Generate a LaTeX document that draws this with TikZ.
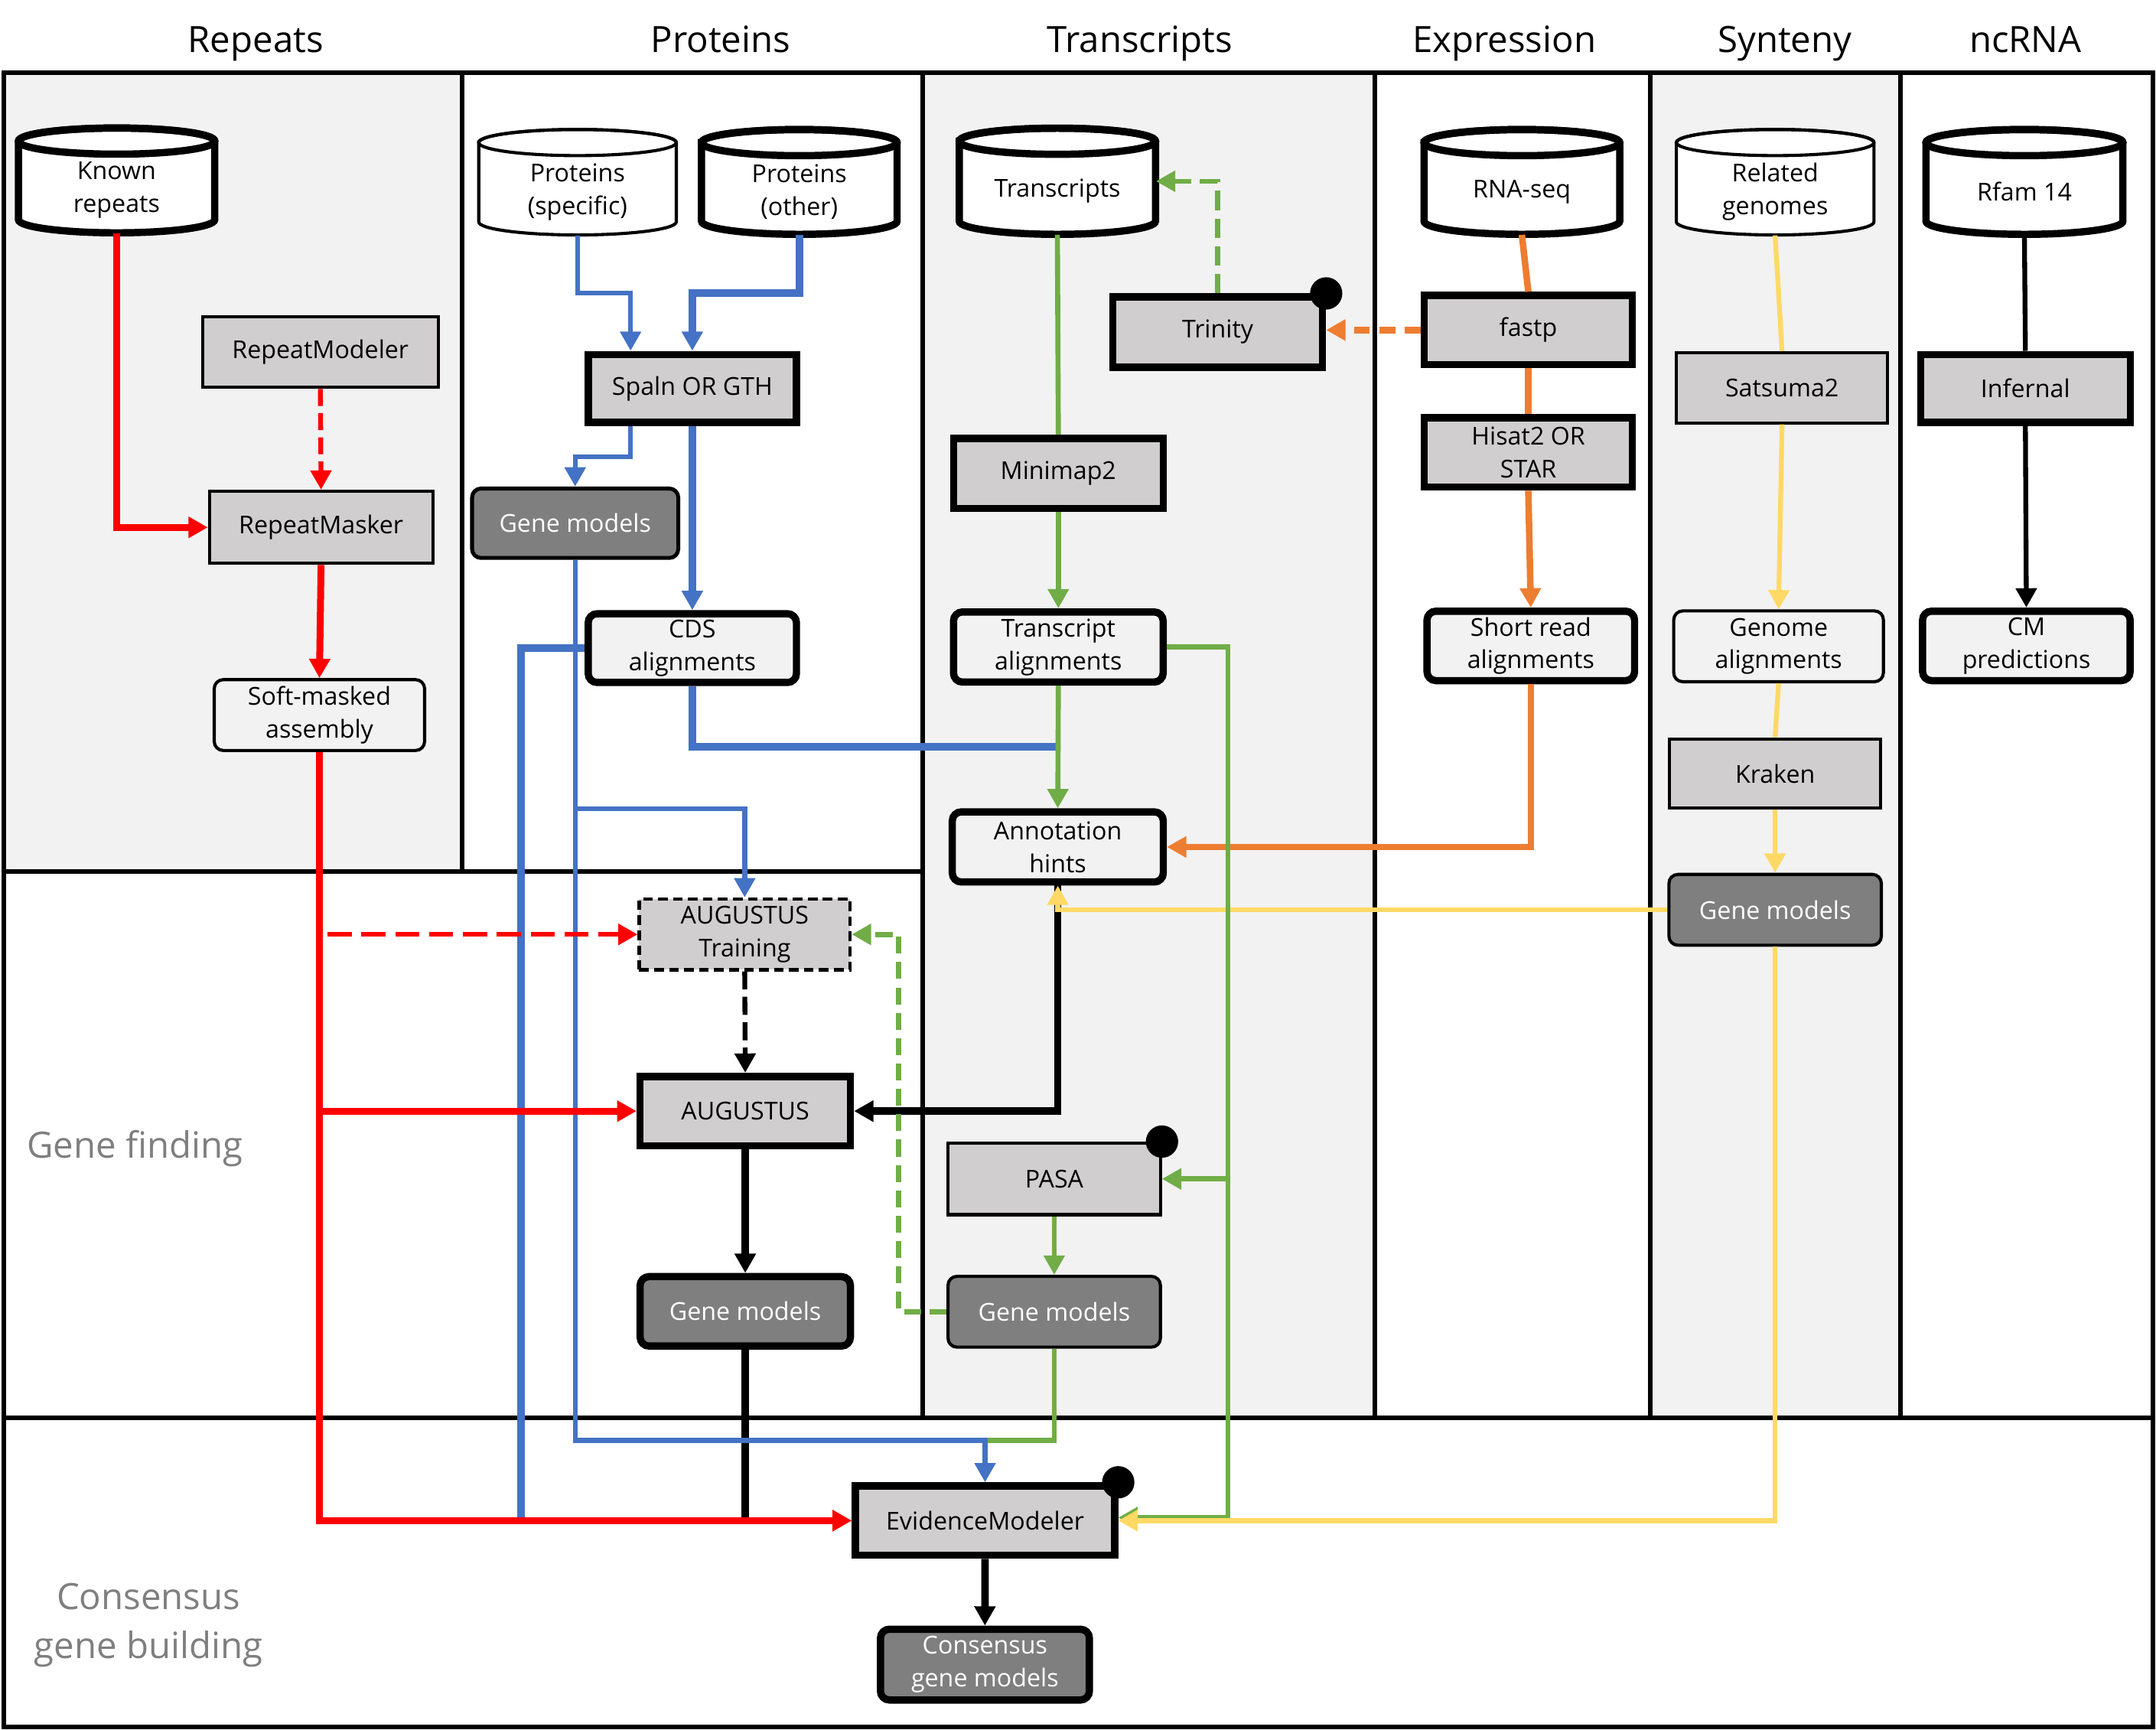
\documentclass[tikz,border=0pt]{standalone}
\usepackage{fontspec}
\setmainfont{Open Sans}
\usetikzlibrary{arrows.meta}
\definecolor{cred}{HTML}{FF0000}
\definecolor{cblue}{HTML}{4472C4}
\definecolor{cgreen}{HTML}{70AD47}
\definecolor{corange}{HTML}{ED7D31}
\definecolor{cyellow}{HTML}{FFD966}
\definecolor{lgrey}{HTML}{D0CECE}
\definecolor{dgrey}{HTML}{7F7F7F}
\definecolor{bggrey}{HTML}{F2F2F2}
\definecolor{labgrey}{HTML}{7F7F7F}
\newcommand\dbcyl[7]{%
  \path[draw=black, fill=white, line width=#6]
    ({#2-#4/2},{#3-#5/2+9.5}) -- ({#2-#4/2},{#3+#5/2-9.5})
    arc[start angle=180, end angle=360, x radius={#4/2*0.02cm}, y radius=0.19cm]
    -- ({#2+#4/2},{#3-#5/2+9.5})
    arc[start angle=0, end angle=180, x radius={#4/2*0.02cm}, y radius=0.19cm] -- cycle;
  \draw[line width=#6] (#2,{#3-#5/2+9.5}) ellipse[x radius={#4/2*0.02cm}, y radius=0.19cm];
  \node[inner sep=0pt, minimum width={#4*0.02cm}, minimum height={#5*0.02cm}] (#1) at (#2,#3) {};
  \node[boxtext] (#1-t) at (#2,{#3+7}) {#7};
}
\begin{document}
\begin{tikzpicture}[x=0.02cm, y=-0.02cm,
  boxtext/.style={font=\fontsize{10.2}{13.6}\selectfont, align=center, inner sep=0pt, text=black},
  proc/.style={boxtext, draw=black, fill=lgrey, minimum width=3.05cm, minimum height=1.02cm},
  res/.style={boxtext, draw=black, fill=bggrey, rounded corners=0.13cm, minimum width=3.05cm, minimum height=1.02cm},
  gm/.style={boxtext, draw=black, fill=dgrey, text=white, rounded corners=0.13cm, minimum width=3.05cm, minimum height=1.02cm},
  thk/.style={line width=3pt},
  thn/.style={line width=1.3pt},
  hdr/.style={font=\fontsize{15}{18}\selectfont, inner sep=0pt, anchor=base},
  seclab/.style={font=\fontsize{15}{20.4}\selectfont, text=labgrey, align=center, inner sep=0pt},
  frameline/.style={line width=1.9pt},
  arw/.style={-{Triangle[width=8.4pt,length=8pt]}},
  wred/.style={draw=cred, line width=2.85pt},
  nred/.style={draw=cred, line width=2pt},
  wblue/.style={draw=cblue, line width=3.1pt},
  nblue/.style={draw=cblue, line width=2pt},
  ngreen/.style={draw=cgreen, line width=2.1pt},
  worange/.style={draw=corange, line width=2.7pt},
  nyellow/.style={draw=cyellow, line width=2pt},
  nblack/.style={draw=black, line width=2pt},
  wblack/.style={draw=black, line width=3.1pt},
  blackdot/.style={circle, fill=black, minimum size=0.47cm, inner sep=0pt}
]
\useasboundingbox (0,0) rectangle (1568,1258);
% backgrounds
\fill[bggrey] (3,53) rectangle (336,634);
\fill[bggrey] (671,53) rectangle (1000,1031);
\fill[bggrey] (1200,53) rectangle (1382,1031);
\draw[frameline] (3,53) rectangle (1566,1256);
\draw[frameline] (3,1031) -- (1566,1031);
\draw[frameline] (3,634) -- (671,634);
\draw[frameline] (336,53) -- (336,634);
\foreach \xx in {671,1000,1200,1382} \draw[frameline] (\xx,53) -- (\xx,1031);
% headers
\node[hdr] (hrep) at (186,38) {Repeats};
\node[hdr] (hprot) at (524,38) {Proteins};
\node[hdr] (htr) at (829,38) {Transcripts};
\node[hdr] (hexp) at (1094,38) {Expression};
\node[hdr] (hsyn) at (1298,38) {Synteny};
\node[hdr] (hnc) at (1473,38) {ncRNA};
\node[seclab] (lgf) at (98,835) {Gene finding};
\node[seclab] (lcg) at (108,1182) {Consensus\\gene building};
% databases
\dbcyl{known}{84.8}{131.2}{142.7}{76.2}{3pt}{Known\\repeats}
\dbcyl{protspec}{420}{132.5}{143.7}{76.7}{1.3pt}{Proteins\\(specific)}
\dbcyl{protother}{581.3}{132.3}{142.2}{76.2}{3pt}{Proteins\\(other)}
\dbcyl{transcripts}{769}{131.8}{142.7}{77.2}{3pt}{Transcripts}
\dbcyl{rnaseq}{1106.8}{132.3}{142.3}{76.2}{3pt}{RNA-seq}
\dbcyl{related}{1291}{132.5}{143.7}{76.7}{1.3pt}{Related\\genomes}
\dbcyl{rfam}{1472.3}{132.3}{143.2}{76.2}{3pt}{Rfam 14}
% boxes
\node[proc, thn, minimum width=3.43cm, minimum height=1.03cm] (rmodeler) at (233,256) {RepeatModeler};
\node[proc, thn, minimum width=3.25cm, minimum height=1.05cm] (rmasker) at (233.5,383.5) {RepeatMasker};
\node[res, thn, minimum width=3.06cm, minimum height=1.03cm] (softmask) at (232.3,520) {Soft-masked\\assembly};
\node[proc, thk, minimum width=3.03cm, minimum height=0.99cm] (spaln) at (503.5,282.5) {Spaln OR GTH};
\node[gm, line width=1.6pt, minimum width=3.0cm, minimum height=1.01cm] (gmprot) at (418.3,380.5) {Gene models};
\node[res, thk, minimum width=3.03cm, minimum height=1.0cm] (cds) at (503.5,471.3) {CDS\\alignments};
\node[proc, thk] (trinity) at (885.6,241.5) {Trinity};
\node[proc, thk] (minimap) at (769.7,344.3) {Minimap2};
\node[res, thk] (talign) at (769.7,470.5) {Transcript\\alignments};
\node[res, thk, minimum width=3.07cm] (hints) at (769.3,615.9) {Annotation\\hints};
\node[proc, thn, minimum width=3.09cm, minimum height=1.04cm] (pasa) at (766.7,857.3) {PASA};
\node[gm, thn, minimum width=3.09cm, minimum height=1.03cm] (gmpasa) at (766.7,953.9) {Gene models};
\node[proc, thk, minimum width=3.03cm, minimum height=1.01cm] (fastp) at (1111.5,240) {fastp};
\node[proc, thk, minimum width=3.03cm, minimum height=1.01cm] (hisat) at (1111.5,329) {Hisat2 OR\\STAR};
\node[res, thk, minimum width=3.02cm, minimum height=1.01cm] (shortread) at (1113.3,469.7) {Short read\\alignments};
\node[proc, thn, minimum width=3.07cm] (satsuma) at (1296,282) {Satsuma2};
\node[res, thn, minimum width=3.05cm, minimum height=1.03cm] (genal) at (1293.5,470) {Genome\\alignments};
\node[proc, thn, minimum width=3.07cm, minimum height=1.01cm] (kraken) at (1291,562.5) {Kraken};
\node[gm, thn, minimum width=3.09cm, minimum height=1.03cm] (gmsyn) at (1291,661.6) {Gene models};
\node[proc, thk, minimum height=0.99cm] (infernal) at (1473,282.5) {Infernal};
\node[res, thk, minimum width=3.02cm, minimum height=1.01cm] (cmpred) at (1473.7,469.7) {CM\\predictions};
\node[proc, thn, dash pattern=on 4pt off 2.2pt, minimum width=3.07cm, minimum height=1.03cm] (augtrain) at (541.6,679.5) {AUGUSTUS\\Training};
\node[proc, thk, minimum width=3.06cm, minimum height=1.01cm] (augustus) at (542,808) {AUGUSTUS};
\node[gm, thk, minimum width=3.06cm, minimum height=1.01cm] (gmaug) at (542,953.6) {Gene models};
\node[proc, thk, minimum width=3.77cm, minimum height=1.01cm] (evm) at (716.4,1105.8) {EvidenceModeler};
\node[gm, thk, minimum width=3.04cm, minimum height=1.03cm] (consensus) at (716.3,1210.5) {Consensus\\gene models};
% orange
\draw[worange] (rnaseq.south) -- (fastp.north);
\draw[worange] (fastp.south) -- (hisat.north);
\draw[worange, arw] (hisat.south) -- (shortread.north);
\draw[worange, arw] (shortread.south) |- (hints.east);
\draw[worange, arw, dash pattern=on 6.5pt off 4pt] (fastp.west) -- (fastp.west -| trinity.east);
% black
\draw[nblack] (rfam.south) -- (infernal.north);
\draw[nblack, arw] (infernal.south) -- (cmpred.north);
\draw[wblack, arw] (hints.south) |- (augustus.east);
\draw[nblack, arw, dash pattern=on 7.5pt off 3pt] (augtrain.south) -- (augustus.north);
\draw[wblack, arw] (augustus.south) -- (gmaug.north);
\draw[wblack] (gmaug.south) -- (gmaug.south |- evm.west);
\draw[wblack, arw] (evm.south) -- (consensus.north);
% yellow
\draw[nyellow] (related.south) -- (satsuma.north);
\draw[nyellow, arw] (satsuma.south) -- (genal.north);
\draw[nyellow] (genal.south) -- (kraken.north);
\draw[nyellow, arw] (kraken.south) -- (gmsyn.north);
\draw[nyellow, arw] (gmsyn.west) -| (hints.south);
% blue
\coordinate (bs) at (458.6,213);
\coordinate (bo) at (503.5,213);
\coordinate (bm) at (458.6,332);
\coordinate (bl) at (379,1105.8);
\coordinate (bg) at (769.7,543);
\coordinate (bb) at (418.3,588);
\coordinate (bj) at (716.4,1047.4);
\draw[nblue, arw] (protspec.south) |- (bs) -- (bs |- spaln.north);
\draw[wblue, arw] (protother.south) |- (bo) -- (spaln.north);
\draw[nblue, arw] (bs |- spaln.south) -- (bm) -| (gmprot.north);
\draw[wblue, arw] (spaln.south) -- (cds.north);
\draw[wblue] (cds.west) -| (bl);
\draw[wblue] (cds.south) |- (bg);
\draw[nblue, arw] (bb) -| (augtrain.north);
\draw[ngreen] (gmpasa.south) |- (bj);
\draw[nblue, arw] (gmprot.south) |- (bj) -- (evm.north);
% green
\coordinate (g1) at (893,470.5);
\coordinate (g2) at (893,1103.6);
\coordinate (gd) at (653.6,953.9);
\draw[ngreen] (transcripts.south) -- (minimap.north);
\draw[ngreen, arw] (minimap.south) -- (talign.north);
\draw[ngreen, arw] (talign.south) -- (hints.north);
\draw[ngreen, arw, dash pattern=on 8pt off 3.5pt] (trinity.north) |- (transcripts.east);
\draw[ngreen, arw] (talign.east) -- (g1) -- (g2) -- (g2 -| evm.east);
\draw[ngreen, arw] (g1 |- pasa.east) -- (pasa.east);
\draw[ngreen, arw] (pasa.south) -- (gmpasa.north);
\draw[ngreen, arw, dash pattern=on 7pt off 3.5pt] (gmpasa.west) -- (gd) |- (augtrain.east);
\draw[nyellow, arw] (gmsyn.south) |- (evm.east);
% red
\draw[wred, arw] (known.south) |- (rmasker.west);
\draw[nred, arw, dash pattern=on 7pt off 3pt] (rmodeler.south) -- (rmasker.north);
\draw[wred, arw] (rmasker.south) -- (softmask.north);
\draw[wred, arw] (softmask.south) |- (evm.west);
\draw[wred, arw] (softmask.south |- augustus.west) -- (augustus.west);
\draw[nred, arw, dash pattern=on 10pt off 4pt] ([xshift=0.12cm]softmask.south |- augtrain.west) -- (augtrain.west);
% dots
\node[blackdot] (trinitydot) at (trinity.north east) {};
\node[blackdot] (pasadot) at (pasa.north east) {};
\node[blackdot] (evmdot) at (evm.north east) {};
\end{tikzpicture}
\end{document}
